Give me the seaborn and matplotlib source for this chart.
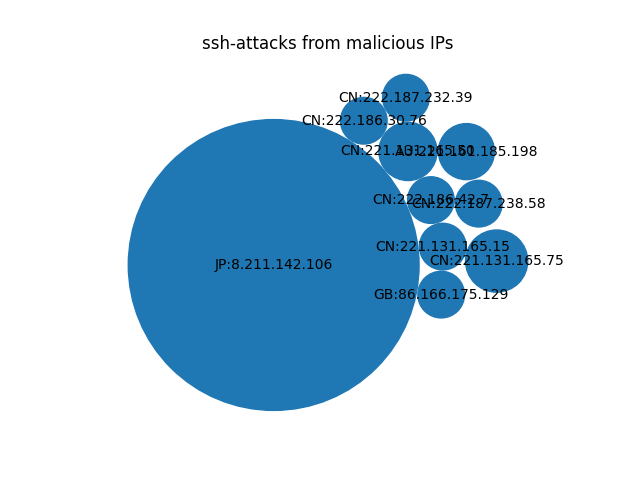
import numpy as np
import matplotlib
matplotlib.use("Agg")
import matplotlib.pyplot as plt
import seaborn as sns

# number of ssh attacks per source IP (value_counts order)
ips = ["JP:8.211.142.106", "CN:221.131.165.75", "CN:221.131.165.50", "AU:221.161.185.198",
       "CN:222.187.232.39", "CN:222.186.42.7", "CN:221.131.165.15", "GB:86.166.175.129",
       "CN:222.187.238.58", "CN:222.186.30.76"]
counts = [350, 16, 14, 13, 9, 9, 9, 9, 9, 9]


class BubbleChart:
    def __init__(self, area, bubble_spacing=0):
        area = np.asarray(area, dtype=float)
        r = np.sqrt(area / np.pi)
        self.bubble_spacing = bubble_spacing
        self.bubbles = np.ones((len(area), 4))
        self.bubbles[:, 2] = r
        self.bubbles[:, 3] = area
        self.maxstep = 2 * self.bubbles[:, 2].max() + self.bubble_spacing
        self.step_dist = self.maxstep / 2
        # start on a square grid
        length = np.ceil(np.sqrt(len(self.bubbles)))
        grid = np.arange(length) * self.maxstep
        gx, gy = np.meshgrid(grid, grid)
        self.bubbles[:, 0] = gx.flatten()[:len(self.bubbles)]
        self.bubbles[:, 1] = gy.flatten()[:len(self.bubbles)]
        self.com = self.center_of_mass()

    def center_of_mass(self):
        return np.average(self.bubbles[:, :2], axis=0, weights=self.bubbles[:, 3])

    def center_distance(self, bubble, bubbles):
        return np.hypot(bubble[0] - bubbles[:, 0], bubble[1] - bubbles[:, 1])

    def outline_distance(self, bubble, bubbles):
        d = self.center_distance(bubble, bubbles)
        return d - bubble[2] - bubbles[:, 2] - self.bubble_spacing

    def check_collisions(self, bubble, bubbles):
        distance = self.outline_distance(bubble, bubbles)
        return len(distance[distance < 0])

    def collides_with(self, bubble, bubbles):
        distance = self.outline_distance(bubble, bubbles)
        return np.argmin(distance, keepdims=True)

    def collapse(self, n_iterations=50):
        for _ in range(n_iterations):
            moves = 0
            for i in range(len(self.bubbles)):
                rest_bub = np.delete(self.bubbles, i, 0)
                # try to move straight to the center of mass
                dir_vec = self.com - self.bubbles[i, :2]
                dir_vec = dir_vec / np.sqrt(dir_vec.dot(dir_vec))
                new_point = self.bubbles[i, :2] + dir_vec * self.step_dist
                new_bubble = np.append(new_point, self.bubbles[i, 2:4])
                if not self.check_collisions(new_bubble, rest_bub):
                    self.bubbles[i, :] = new_bubble
                    self.com = self.center_of_mass()
                    moves += 1
                else:
                    # otherwise slide around the bubble in the way
                    for colliding in self.collides_with(new_bubble, rest_bub):
                        dir_vec = rest_bub[colliding, :2] - self.bubbles[i, :2]
                        dir_vec = dir_vec / np.sqrt(dir_vec.dot(dir_vec))
                        orth = np.array([dir_vec[1], -dir_vec[0]])
                        p1 = self.bubbles[i, :2] + orth * self.step_dist
                        p2 = self.bubbles[i, :2] - orth * self.step_dist
                        d1 = self.center_distance(self.com, np.array([p1]))
                        d2 = self.center_distance(self.com, np.array([p2]))
                        new_point = p1 if d1 < d2 else p2
                        new_bubble = np.append(new_point, self.bubbles[i, 2:4])
                        if not self.check_collisions(new_bubble, rest_bub):
                            self.bubbles[i, :] = new_bubble
                            self.com = self.center_of_mass()
            if moves / len(self.bubbles) < 0.1:
                self.step_dist = self.step_dist / 2

    def plot(self, ax, labels, colors):
        for i in range(len(self.bubbles)):
            circ = plt.Circle(self.bubbles[i, :2], self.bubbles[i, 2], color=colors[i])
            ax.add_patch(circ)
            ax.text(*self.bubbles[i, :2], labels[i],
                    horizontalalignment="center", verticalalignment="center")


bubble_chart = BubbleChart(area=counts, bubble_spacing=0.1)
bubble_chart.collapse()

fig, ax = plt.subplots(figsize=(6.4, 4.8), dpi=100, subplot_kw=dict(aspect="equal"))
colors = [sns.color_palette("tab10")[0]] * len(ips)
bubble_chart.plot(ax, ips, colors)
ax.axis("off")
ax.relim()
ax.autoscale_view()
ax.set_title("ssh-attacks from malicious IPs")

plt.savefig("out.png")
